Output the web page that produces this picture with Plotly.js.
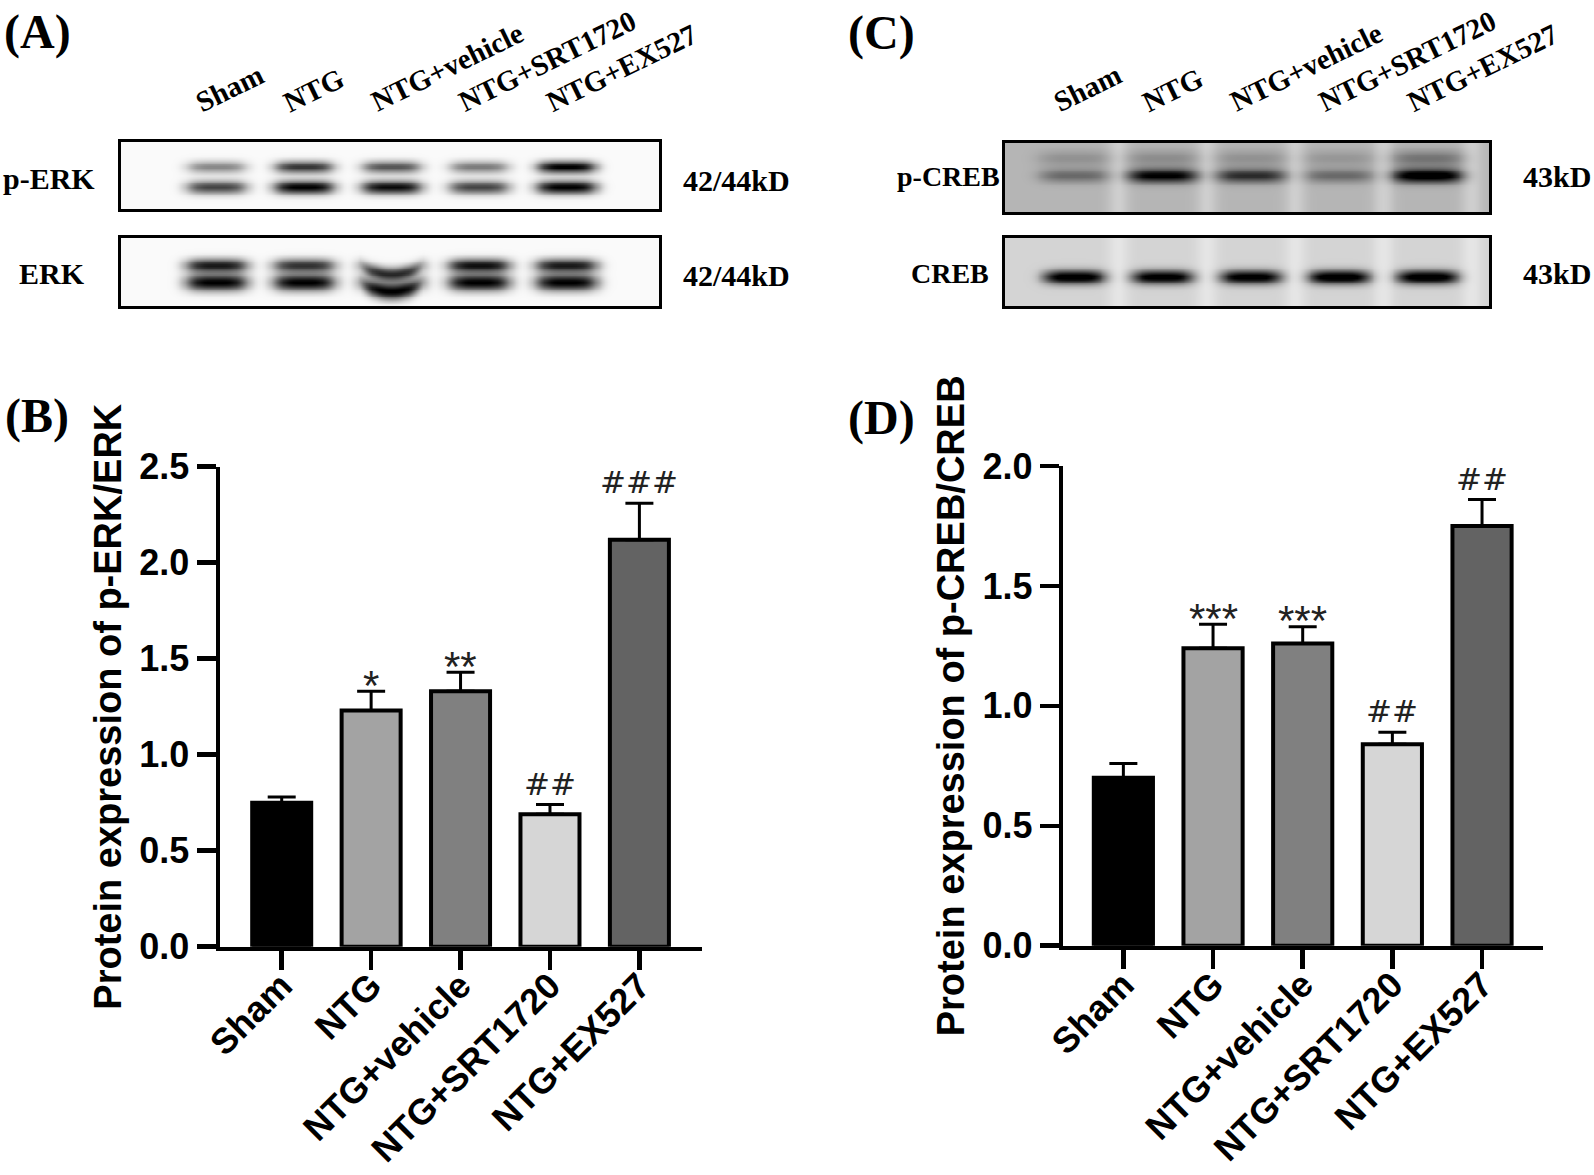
<!DOCTYPE html>
<html>
<head>
<meta charset="utf-8">
<script src="https://cdn.plot.ly/plotly-3.0.1.min.js"></script>
<style>html,body{margin:0;padding:0;background:#fff;}#chart{width:1594px;height:1175px;}</style>
</head>
<body>
<div id="chart"></div>
<script>
// ---------- data ----------
const groups = ['Sham', 'NTG', 'NTG+vehicle', 'NTG+SRT1720', 'NTG+EX527'];
const erkMean = [0.75, 1.23, 1.33, 0.69, 2.12];
const erkSem  = [0.03, 0.10, 0.10, 0.05, 0.19];
const crebMean = [0.70, 1.24, 1.26, 0.84, 1.75];
const crebSem  = [0.06, 0.10, 0.07, 0.05, 0.11];
const erkSig  = ['', '*', '**', '##', '###'];
const crebSig = ['', '***', '***', '##', '##'];
const barFills = ['#000000', '#a3a3a3', '#808080', '#d6d6d6', '#636363'];

// western blot band intensities (0 = none, 1 = saturated), one value per lane
const pErkUpper = [0.45, 0.78, 0.65, 0.50, 1.00];
const pErkLower = [0.72, 1.00, 0.95, 0.72, 1.00];
const erkUpper  = [0.88, 0.78, 0.82, 0.92, 0.88];
const erkLower  = [1.00, 1.00, 1.00, 1.00, 1.00];
const pCrebMain  = [0.30, 0.74, 0.55, 0.30, 0.85];
const pCrebFaint = [0.14, 0.16, 0.14, 0.12, 0.26];
const crebBand   = [0.95, 0.92, 0.92, 0.97, 0.97];

// ---------- helpers ----------
const SANS = 'Liberation Sans, Arial, sans-serif';
const SERIF = 'Liberation Serif, Times New Roman, serif';

function blotZ(range, bands, bg, gap, nx, ny) {
  const xs = [], ys = [], z = [];
  for (let i = 0; i < nx; i++) xs.push(range[0] + (range[1] - range[0]) * i / (nx - 1));
  for (let j = 0; j < ny; j++) ys.push(j / (ny - 1));
  for (let j = 0; j < ny; j++) {
    const row = [];
    for (let i = 0; i < nx; i++) {
      const x = xs[i], y = ys[j];
      let v = bg;
      for (let l = 0; l < 5; l++) {
        const g = x - (l + 0.5);
        v -= gap * Math.exp(-(g / 0.12) * (g / 0.12));
      }
      bands.forEach(b => {
        for (let l = 0; l < 5; l++) {
          const dx = (x - l) / b.wx;
          const hx = Math.exp(-Math.pow(Math.abs(dx), 4));
          const bend = b.curve ? b.curve[l] * Math.max(0, 1 - dx * dx) : 0;
          const dy = (y - b.yc - bend) / b.sy;
          v += b.amp[l] * hx * Math.exp(-dy * dy);
        }
      });
      row.push(Math.max(0, Math.min(1, v)));
    }
    z.push(row);
  }
  return {x: xs, y: ys, z: z};
}

const rangeA = [-1.09, 5.06];
const rangeC = [-0.78, 4.70];
const bend = [0, 0, 0.13, 0, 0];

const blots = [
  {ax: 3, range: rangeA, bg: 0.02, gap: 0, bands: [
    {amp: pErkUpper, yc: 0.37, sy: 0.09, wx: 0.34},
    {amp: pErkLower, yc: 0.67, sy: 0.10, wx: 0.35}]},
  {ax: 4, range: rangeA, bg: 0.02, gap: 0, bands: [
    {amp: erkUpper, yc: 0.40, sy: 0.10, wx: 0.36, curve: bend},
    {amp: erkLower, yc: 0.65, sy: 0.12, wx: 0.36, curve: bend}]},
  {ax: 5, range: rangeC, bg: 0.29, gap: 0.10, bands: [
    {amp: pCrebFaint, yc: 0.22, sy: 0.12, wx: 0.42},
    {amp: pCrebMain, yc: 0.47, sy: 0.10, wx: 0.40}]},
  {ax: 6, range: rangeC, bg: 0.17, gap: 0.07, bands: [
    {amp: crebBand, yc: 0.57, sy: 0.10, wx: 0.35}]}
];

const traces = [];
blots.forEach(b => {
  const h = blotZ(b.range, b.bands, b.bg, b.gap, 170, 40);
  traces.push({type: 'heatmap', x: h.x, y: h.y, z: h.z, xaxis: 'x' + b.ax, yaxis: 'y' + b.ax,
    zmin: 0, zmax: 1, zsmooth: 'best', showscale: false, hoverinfo: 'skip',
    colorscale: [[0, '#ffffff'], [1, '#000000']]});
});

function barTrace(mean, sem, xa, ya) {
  return {type: 'bar', x: groups, y: mean, xaxis: xa, yaxis: ya, width: 0.66,
    marker: {color: barFills, line: {color: '#000', width: 4}},
    error_y: {type: 'data', symmetric: false, array: sem, arrayminus: sem.map(() => 0),
      color: '#000', thickness: 3, width: 14},
    hoverinfo: 'x+y'};
}
traces.push(barTrace(erkMean, erkSem, 'x', 'y'));
traces.push(barTrace(crebMean, crebSem, 'x2', 'y2'));

const annotations = [];
function sigAnn(sig, mean, sem, xr, yr) {
  sig.forEach((s, i) => {
    if (!s) return;
    const hash = s.indexOf('#') >= 0;
    annotations.push({xref: xr, yref: yr, x: groups[i], y: mean[i] + sem[i], showarrow: false,
      yanchor: 'middle', yshift: hash ? 21 : 6, text: s,
      font: hash ? {family: 'DejaVu Sans', size: 31, color: '#222'} : {family: SANS, size: 42, color: '#222'}});
  });
}
sigAnn(erkSig, erkMean, erkSem, 'x', 'y');
sigAnn(crebSig, crebMean, crebSem, 'x2', 'y2');

// panel letters
[['(A)', 37, 32], ['(B)', 37, 416], ['(C)', 882, 33], ['(D)', 882, 418]].forEach(p => {
  annotations.push({xref: 'paper', yref: 'paper', x: p[1] / 1594, y: 1 - p[2] / 1175, showarrow: false,
    xanchor: 'center', yanchor: 'middle', text: p[0], font: {family: SERIF, size: 48, weight: 'bold', color: '#000'}});
});

// blot row labels and sizes
const blotLbl = [
  ['p-ERK', 49, 178, 30], ['ERK', 52, 274, 30], ['42/44kD', 736, 180, 30], ['42/44kD', 736, 276, 30],
  ['p-CREB', 948, 177, 28], ['CREB', 950, 273, 28], ['43kD', 1557, 177, 30], ['43kD', 1557, 274, 30]];
blotLbl.forEach(p => {
  annotations.push({xref: 'paper', yref: 'paper', x: p[1] / 1594, y: 1 - p[2] / 1175, showarrow: false,
    xanchor: 'center', yanchor: 'middle', text: p[0], font: {family: SERIF, size: p[3], weight: 'bold', color: '#000'}});
});

// lane labels above the blots
[['x3', 0.8975], ['x5', 0.8975]].forEach(a => {
  groups.forEach((g, i) => {
    annotations.push({xref: a[0], yref: 'paper', x: i, y: a[1], xanchor: 'left', yanchor: 'bottom',
      xshift: -28, showarrow: false, textangle: -26, text: g,
      font: {family: SERIF, size: 29, weight: 'bold', color: '#000'}});
  });
});

function barX(dom, rng, anchor) {
  return {domain: dom, range: rng, type: 'category', anchor: anchor, tickangle: -45,
    ticks: 'outside', ticklen: 19, tickwidth: 4.5, tickcolor: '#000', ticklabelstandoff: -20,
    showline: true, linewidth: 4.5, linecolor: '#000', showgrid: false, zeroline: false,
    tickfont: {family: SANS, size: 36, weight: 'bold', color: '#000'}, fixedrange: true};
}
function barY(dom, rng, anchor, title) {
  return {domain: dom, range: rng, anchor: anchor, dtick: 0.5, tickformat: '.1f',
    ticks: 'outside', ticklen: 19, tickwidth: 4.5, tickcolor: '#000',
    showline: true, linewidth: 4.5, linecolor: '#000', showgrid: false, zeroline: false,
    tickfont: {family: SANS, size: 36, weight: 'bold', color: '#000'},
    title: {text: title, standoff: 7, font: {family: SANS, size: 38, weight: 'bold', color: '#000'}},
    fixedrange: true};
}
function blotAxes(xd, yd, rng, n) {
  const o = {};
  o['xaxis' + n] = {domain: xd, range: rng, anchor: 'y' + n, showticklabels: false, ticks: '',
    showgrid: false, zeroline: false, showline: true, mirror: true, linewidth: 3, linecolor: '#000', fixedrange: true};
  o['yaxis' + n] = {domain: yd, range: [1, 0], anchor: 'x' + n, showticklabels: false, ticks: '',
    showgrid: false, zeroline: false, showline: true, mirror: true, linewidth: 3, linecolor: '#000', fixedrange: true};
  return o;
}

const layout = Object.assign({
  width: 1594, height: 1175, margin: {l: 0, r: 0, t: 0, b: 0},
  paper_bgcolor: '#fff', plot_bgcolor: 'rgba(0,0,0,0)', showlegend: false,
  font: {family: SANS, color: '#000'},
  xaxis: barX([220 / 1594, 702 / 1594], [-0.69, 4.70], 'y'),
  yaxis: barY([1 - 946.7 / 1175, 1 - 466.7 / 1175], [0, 2.5], 'x', 'Protein expression of p-ERK/ERK'),
  xaxis2: barX([1063.3 / 1594, 1543 / 1594], [-0.67, 4.68], 'y2'),
  yaxis2: barY([1 - 945.7 / 1175, 1 - 466 / 1175], [0, 2.0], 'x2', 'Protein expression of p-CREB/CREB'),
  annotations: annotations
},
  blotAxes([121 / 1594, 659 / 1594], [1 - 209 / 1175, 1 - 142 / 1175], rangeA, 3),
  blotAxes([121 / 1594, 659 / 1594], [1 - 306 / 1175, 1 - 238 / 1175], rangeA, 4),
  blotAxes([1005 / 1594, 1489 / 1594], [1 - 212 / 1175, 1 - 143 / 1175], rangeC, 5),
  blotAxes([1005 / 1594, 1489 / 1594], [1 - 306 / 1175, 1 - 238 / 1175], rangeC, 6)
);

Plotly.newPlot('chart', traces, layout, {displayModeBar: false, staticPlot: true});
</script>
</body>
</html>
